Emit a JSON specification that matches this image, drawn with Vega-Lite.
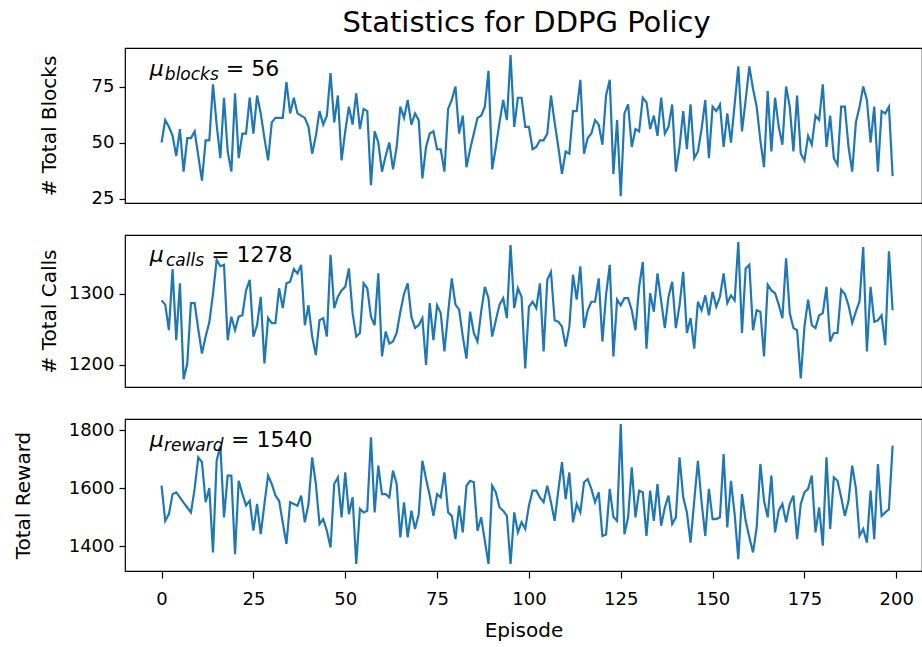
{
"$schema": "https://vega.github.io/schema/vega-lite/v6.json",
"background": "white",
"padding": {"left": 12, "top": 8, "right": 0, "bottom": 0},
"config": {
  "font": "DejaVu Sans",
  "view": {"stroke": "black", "strokeWidth": 1.2},
  "axis": {"grid": false, "domain": false, "tickColor": "black", "tickSize": 6, "tickWidth": 1.2, "labelColor": "black", "titleColor": "black", "labelFont": "DejaVu Sans", "titleFont": "DejaVu Sans", "labelFontSize": 18, "titleFontSize": 20, "titleFontWeight": "normal", "labelPadding": 5, "titlePadding": 8, "format": "d"},
  "text": {"font": "DejaVu Sans", "color": "black"}
},
"datasets": {"d": [
{"ep":0,"blocks":50,"calls":1291,"reward":1608},{"ep":1,"blocks":60,"calls":1285,"reward":1487},{"ep":2,"blocks":57,"calls":1249,"reward":1510},{"ep":3,"blocks":53,"calls":1335,"reward":1579},{"ep":4,"blocks":44,"calls":1235,"reward":1585},{"ep":5,"blocks":56,"calls":1315,"reward":1568},{"ep":6,"blocks":37,"calls":1180,"reward":1550},{"ep":7,"blocks":52,"calls":1202,"reward":1533},{"ep":8,"blocks":52,"calls":1287,"reward":1516},{"ep":9,"blocks":55,"calls":1287,"reward":1597},
{"ep":10,"blocks":44,"calls":1250,"reward":1706},{"ep":11,"blocks":33,"calls":1216,"reward":1689},{"ep":12,"blocks":51,"calls":1240,"reward":1551},{"ep":13,"blocks":51,"calls":1260,"reward":1600},{"ep":14,"blocks":76,"calls":1300,"reward":1378},{"ep":15,"blocks":58,"calls":1348,"reward":1694},{"ep":16,"blocks":43,"calls":1339,"reward":1746},{"ep":17,"blocks":70,"calls":1341,"reward":1499},{"ep":18,"blocks":46,"calls":1235,"reward":1643},{"ep":19,"blocks":37,"calls":1268,"reward":1643},
{"ep":20,"blocks":72,"calls":1249,"reward":1372},{"ep":21,"blocks":43,"calls":1268,"reward":1625},{"ep":22,"blocks":54,"calls":1270,"reward":1580},{"ep":23,"blocks":54,"calls":1305,"reward":1540},{"ep":24,"blocks":70,"calls":1320,"reward":1556},{"ep":25,"blocks":54,"calls":1240,"reward":1453},{"ep":26,"blocks":71,"calls":1256,"reward":1545},{"ep":27,"blocks":63,"calls":1296,"reward":1441},{"ep":28,"blocks":52,"calls":1202,"reward":1545},{"ep":29,"blocks":42,"calls":1266,"reward":1643},
{"ep":30,"blocks":59,"calls":1259,"reward":1614},{"ep":31,"blocks":61,"calls":1259,"reward":1574},{"ep":32,"blocks":61,"calls":1308,"reward":1556},{"ep":33,"blocks":61,"calls":1280,"reward":1480},{"ep":34,"blocks":77,"calls":1315,"reward":1407},{"ep":35,"blocks":63,"calls":1317,"reward":1551},{"ep":36,"blocks":70,"calls":1335,"reward":1545},{"ep":37,"blocks":63,"calls":1329,"reward":1539},{"ep":38,"blocks":62,"calls":1341,"reward":1574},{"ep":39,"blocks":61,"calls":1256,"reward":1482},
{"ep":40,"blocks":57,"calls":1284,"reward":1545},{"ep":41,"blocks":45,"calls":1240,"reward":1706},{"ep":42,"blocks":53,"calls":1214,"reward":1614},{"ep":43,"blocks":64,"calls":1263,"reward":1476},{"ep":44,"blocks":58,"calls":1266,"reward":1493},{"ep":45,"blocks":62,"calls":1240,"reward":1453},{"ep":46,"blocks":81,"calls":1355,"reward":1395},{"ep":47,"blocks":59,"calls":1280,"reward":1614},{"ep":48,"blocks":71,"calls":1296,"reward":1637},{"ep":49,"blocks":42,"calls":1305,"reward":1499},
{"ep":50,"blocks":55,"calls":1310,"reward":1654},{"ep":51,"blocks":66,"calls":1336,"reward":1510},{"ep":52,"blocks":58,"calls":1273,"reward":1568},{"ep":53,"blocks":72,"calls":1240,"reward":1338},{"ep":54,"blocks":56,"calls":1245,"reward":1528},{"ep":55,"blocks":65,"calls":1315,"reward":1516},{"ep":56,"blocks":64,"calls":1308,"reward":1522},{"ep":57,"blocks":31,"calls":1268,"reward":1775},{"ep":58,"blocks":55,"calls":1256,"reward":1516},{"ep":59,"blocks":50,"calls":1329,"reward":1677},
{"ep":60,"blocks":37,"calls":1212,"reward":1579},{"ep":61,"blocks":44,"calls":1247,"reward":1579},{"ep":62,"blocks":50,"calls":1230,"reward":1568},{"ep":63,"blocks":38,"calls":1233,"reward":1660},{"ep":64,"blocks":48,"calls":1245,"reward":1614},{"ep":65,"blocks":66,"calls":1275,"reward":1430},{"ep":66,"blocks":61,"calls":1300,"reward":1551},{"ep":67,"blocks":69,"calls":1315,"reward":1430},{"ep":68,"blocks":58,"calls":1268,"reward":1522},{"ep":69,"blocks":63,"calls":1252,"reward":1459},
{"ep":70,"blocks":60,"calls":1256,"reward":1510},{"ep":71,"blocks":34,"calls":1266,"reward":1694},{"ep":72,"blocks":48,"calls":1200,"reward":1631},{"ep":73,"blocks":54,"calls":1287,"reward":1574},{"ep":74,"blocks":55,"calls":1235,"reward":1504},{"ep":75,"blocks":47,"calls":1284,"reward":1579},{"ep":76,"blocks":47,"calls":1273,"reward":1568},{"ep":77,"blocks":37,"calls":1219,"reward":1654},{"ep":78,"blocks":65,"calls":1273,"reward":1516},{"ep":79,"blocks":69,"calls":1322,"reward":1504},
{"ep":80,"blocks":75,"calls":1285,"reward":1424},{"ep":81,"blocks":54,"calls":1278,"reward":1539},{"ep":82,"blocks":62,"calls":1240,"reward":1447},{"ep":83,"blocks":39,"calls":1209,"reward":1608},{"ep":84,"blocks":47,"calls":1275,"reward":1625},{"ep":85,"blocks":54,"calls":1245,"reward":1620},{"ep":86,"blocks":61,"calls":1233,"reward":1453},{"ep":87,"blocks":62,"calls":1275,"reward":1499},{"ep":88,"blocks":66,"calls":1310,"reward":1418},{"ep":89,"blocks":82,"calls":1294,"reward":1338},
{"ep":90,"blocks":38,"calls":1240,"reward":1608},{"ep":91,"blocks":48,"calls":1263,"reward":1585},{"ep":92,"blocks":59,"calls":1285,"reward":1533},{"ep":93,"blocks":69,"calls":1294,"reward":1522},{"ep":94,"blocks":60,"calls":1266,"reward":1504},{"ep":95,"blocks":89,"calls":1369,"reward":1338},{"ep":96,"blocks":57,"calls":1280,"reward":1516},{"ep":97,"blocks":70,"calls":1308,"reward":1447},{"ep":98,"blocks":70,"calls":1296,"reward":1482},{"ep":99,"blocks":57,"calls":1195,"reward":1459},
{"ep":100,"blocks":57,"calls":1282,"reward":1539},{"ep":101,"blocks":47,"calls":1289,"reward":1591},{"ep":102,"blocks":48,"calls":1280,"reward":1591},{"ep":103,"blocks":51,"calls":1315,"reward":1568},{"ep":104,"blocks":51,"calls":1219,"reward":1551},{"ep":105,"blocks":54,"calls":1320,"reward":1608},{"ep":106,"blocks":71,"calls":1331,"reward":1551},{"ep":107,"blocks":59,"calls":1263,"reward":1487},{"ep":108,"blocks":48,"calls":1261,"reward":1591},{"ep":109,"blocks":36,"calls":1254,"reward":1689},
{"ep":110,"blocks":46,"calls":1226,"reward":1562},{"ep":111,"blocks":45,"calls":1254,"reward":1654},{"ep":112,"blocks":64,"calls":1327,"reward":1482},{"ep":113,"blocks":64,"calls":1292,"reward":1545},{"ep":114,"blocks":78,"calls":1339,"reward":1516},{"ep":115,"blocks":45,"calls":1252,"reward":1620},{"ep":116,"blocks":52,"calls":1277,"reward":1631},{"ep":117,"blocks":54,"calls":1289,"reward":1597},{"ep":118,"blocks":60,"calls":1289,"reward":1551},{"ep":119,"blocks":58,"calls":1322,"reward":1585},
{"ep":120,"blocks":49,"calls":1233,"reward":1435},{"ep":121,"blocks":71,"calls":1299,"reward":1440},{"ep":122,"blocks":78,"calls":1341,"reward":1597},{"ep":123,"blocks":36,"calls":1212,"reward":1500},{"ep":124,"blocks":60,"calls":1292,"reward":1487},{"ep":125,"blocks":26,"calls":1284,"reward":1821},{"ep":126,"blocks":63,"calls":1294,"reward":1441},{"ep":127,"blocks":67,"calls":1294,"reward":1499},{"ep":128,"blocks":48,"calls":1277,"reward":1671},{"ep":129,"blocks":56,"calls":1249,"reward":1499},
{"ep":130,"blocks":55,"calls":1310,"reward":1591},{"ep":131,"blocks":70,"calls":1345,"reward":1585},{"ep":132,"blocks":68,"calls":1223,"reward":1435},{"ep":133,"blocks":56,"calls":1301,"reward":1591},{"ep":134,"blocks":62,"calls":1275,"reward":1487},{"ep":135,"blocks":53,"calls":1329,"reward":1614},{"ep":136,"blocks":70,"calls":1290,"reward":1470},{"ep":137,"blocks":54,"calls":1252,"reward":1533},{"ep":138,"blocks":57,"calls":1296,"reward":1574},{"ep":139,"blocks":67,"calls":1317,"reward":1476},
{"ep":140,"blocks":37,"calls":1252,"reward":1499},{"ep":141,"blocks":48,"calls":1284,"reward":1706},{"ep":142,"blocks":64,"calls":1331,"reward":1568},{"ep":143,"blocks":47,"calls":1245,"reward":1516},{"ep":144,"blocks":67,"calls":1266,"reward":1412},{"ep":145,"blocks":43,"calls":1223,"reward":1556},{"ep":146,"blocks":46,"calls":1289,"reward":1694},{"ep":147,"blocks":56,"calls":1277,"reward":1551},{"ep":148,"blocks":69,"calls":1298,"reward":1435},{"ep":149,"blocks":43,"calls":1270,"reward":1597},
{"ep":150,"blocks":66,"calls":1303,"reward":1493},{"ep":151,"blocks":64,"calls":1282,"reward":1493},{"ep":152,"blocks":67,"calls":1296,"reward":1499},{"ep":153,"blocks":48,"calls":1329,"reward":1717},{"ep":154,"blocks":63,"calls":1287,"reward":1464},{"ep":155,"blocks":50,"calls":1298,"reward":1625},{"ep":156,"blocks":67,"calls":1291,"reward":1510},{"ep":157,"blocks":84,"calls":1373,"reward":1355},{"ep":158,"blocks":55,"calls":1245,"reward":1579},{"ep":159,"blocks":69,"calls":1336,"reward":1487},
{"ep":160,"blocks":84,"calls":1341,"reward":1430},{"ep":161,"blocks":74,"calls":1249,"reward":1378},{"ep":162,"blocks":66,"calls":1277,"reward":1464},{"ep":163,"blocks":51,"calls":1275,"reward":1683},{"ep":164,"blocks":39,"calls":1212,"reward":1556},{"ep":165,"blocks":73,"calls":1313,"reward":1499},{"ep":166,"blocks":46,"calls":1305,"reward":1643},{"ep":167,"blocks":70,"calls":1301,"reward":1447},{"ep":168,"blocks":57,"calls":1285,"reward":1522},{"ep":169,"blocks":49,"calls":1266,"reward":1545},
{"ep":170,"blocks":75,"calls":1350,"reward":1482},{"ep":171,"blocks":66,"calls":1273,"reward":1545},{"ep":172,"blocks":46,"calls":1252,"reward":1574},{"ep":173,"blocks":71,"calls":1249,"reward":1424},{"ep":174,"blocks":45,"calls":1181,"reward":1545},{"ep":175,"blocks":42,"calls":1254,"reward":1585},{"ep":176,"blocks":53,"calls":1292,"reward":1597},{"ep":177,"blocks":49,"calls":1256,"reward":1643},{"ep":178,"blocks":62,"calls":1252,"reward":1447},{"ep":179,"blocks":60,"calls":1270,"reward":1533},
{"ep":180,"blocks":76,"calls":1273,"reward":1401},{"ep":181,"blocks":48,"calls":1310,"reward":1706},{"ep":182,"blocks":62,"calls":1233,"reward":1459},{"ep":183,"blocks":43,"calls":1245,"reward":1637},{"ep":184,"blocks":40,"calls":1245,"reward":1625},{"ep":185,"blocks":66,"calls":1306,"reward":1568},{"ep":186,"blocks":66,"calls":1300,"reward":1504},{"ep":187,"blocks":48,"calls":1284,"reward":1556},{"ep":188,"blocks":37,"calls":1259,"reward":1677},{"ep":189,"blocks":59,"calls":1275,"reward":1600},
{"ep":190,"blocks":66,"calls":1290,"reward":1435},{"ep":191,"blocks":75,"calls":1366,"reward":1459},{"ep":192,"blocks":69,"calls":1219,"reward":1412},{"ep":193,"blocks":50,"calls":1310,"reward":1591},{"ep":194,"blocks":66,"calls":1261,"reward":1424},{"ep":195,"blocks":37,"calls":1263,"reward":1683},{"ep":196,"blocks":64,"calls":1270,"reward":1504},{"ep":197,"blocks":63,"calls":1228,"reward":1516},{"ep":198,"blocks":66,"calls":1360,"reward":1527},{"ep":199,"blocks":35,"calls":1277,"reward":1746}
]},
"bounds": "flush",
"spacing": 32,
"vconcat": [
{
  "width": 797, "height": 155,
  "title": {"text": "Statistics for DDPG Policy", "fontSize": 29, "fontWeight": "normal", "frame": "group", "anchor": "middle", "offset": 10, "dx": 3, "font": "DejaVu Sans", "color": "black"},
  "layer": [
    {"data": {"name": "d"}, "mark": {"type": "line", "color": "#1f77b4", "strokeWidth": 2.2},
     "encoding": {
       "x": {"field": "ep", "type": "quantitative", "scale": {"domain": [-9.95, 207], "nice": false, "zero": false}, "axis": null},
       "y": {"field": "blocks", "type": "quantitative", "scale": {"domain": [23, 92.2], "nice": false, "zero": false}, "axis": {"values": [25, 50, 75], "title": "# Total Blocks", "titleX": -76, "titleBaseline": "middle"}}}},
    {"data": {"values": [{}]}, "mark": {"type": "text", "text": "μ", "fontStyle": "italic", "fontSize": 22, "align": "left", "baseline": "alphabetic"},
     "encoding": {"x": {"datum": -3.2, "type": "quantitative"}, "y": {"datum": 79.5, "type": "quantitative"}}},
    {"data": {"values": [{}]}, "mark": {"type": "text", "text": "blocks", "fontStyle": "italic", "fontSize": 17, "align": "left", "baseline": "alphabetic"},
     "encoding": {"x": {"datum": 0.9, "type": "quantitative"}, "y": {"datum": 77.7, "type": "quantitative"}}},
    {"data": {"values": [{}]}, "mark": {"type": "text", "text": "= 56", "fontSize": 22, "align": "left", "baseline": "alphabetic"},
     "encoding": {"x": {"datum": 17.5, "type": "quantitative"}, "y": {"datum": 79.5, "type": "quantitative"}}}
  ]
},
{
  "width": 797, "height": 152,
  "layer": [
    {"data": {"name": "d"}, "mark": {"type": "line", "color": "#1f77b4", "strokeWidth": 2.2},
     "encoding": {
       "x": {"field": "ep", "type": "quantitative", "scale": {"domain": [-9.95, 207], "nice": false, "zero": false}, "axis": null},
       "y": {"field": "calls", "type": "quantitative", "scale": {"domain": [1169, 1383], "nice": false, "zero": false}, "axis": {"values": [1200, 1300], "title": "# Total Calls", "titleX": -76, "titleBaseline": "middle"}}}},
    {"data": {"values": [{}]}, "mark": {"type": "text", "text": "μ", "fontStyle": "italic", "fontSize": 22, "align": "left", "baseline": "alphabetic"},
     "encoding": {"x": {"datum": -3.2, "type": "quantitative"}, "y": {"datum": 1345, "type": "quantitative"}}},
    {"data": {"values": [{}]}, "mark": {"type": "text", "text": "calls", "fontStyle": "italic", "fontSize": 17, "align": "left", "baseline": "alphabetic"},
     "encoding": {"x": {"datum": 1.2, "type": "quantitative"}, "y": {"datum": 1339.4, "type": "quantitative"}}},
    {"data": {"values": [{}]}, "mark": {"type": "text", "text": "= 1278", "fontSize": 22, "align": "left", "baseline": "alphabetic"},
     "encoding": {"x": {"datum": 13.5, "type": "quantitative"}, "y": {"datum": 1345, "type": "quantitative"}}}
  ]
},
{
  "width": 797, "height": 152,
  "layer": [
    {"data": {"name": "d"}, "mark": {"type": "line", "color": "#1f77b4", "strokeWidth": 2.2},
     "encoding": {
       "x": {"field": "ep", "type": "quantitative", "scale": {"domain": [-9.95, 207], "nice": false, "zero": false}, "axis": {"values": [0, 25, 50, 75, 100, 125, 150, 175, 200], "title": "Episode", "labelFlush": false, "labelOverlap": false, "tickSize": 7, "labelPadding": 12, "titlePadding": 12}},
       "y": {"field": "reward", "type": "quantitative", "scale": {"domain": [1314, 1838], "nice": false, "zero": false}, "axis": {"values": [1400, 1600, 1800], "title": "Total Reward", "titleX": -102, "titleBaseline": "middle"}}}},
    {"data": {"values": [{}]}, "mark": {"type": "text", "text": "μ", "fontStyle": "italic", "fontSize": 22, "align": "left", "baseline": "alphabetic"},
     "encoding": {"x": {"datum": -3.2, "type": "quantitative"}, "y": {"datum": 1741, "type": "quantitative"}}},
    {"data": {"values": [{}]}, "mark": {"type": "text", "text": "reward", "fontStyle": "italic", "fontSize": 17, "align": "left", "baseline": "alphabetic"},
     "encoding": {"x": {"datum": 0.65, "type": "quantitative"}, "y": {"datum": 1727.7, "type": "quantitative"}}},
    {"data": {"values": [{}]}, "mark": {"type": "text", "text": "= 1540", "fontSize": 22, "align": "left", "baseline": "alphabetic"},
     "encoding": {"x": {"datum": 18.9, "type": "quantitative"}, "y": {"datum": 1741, "type": "quantitative"}}}
  ]
}
]
}
